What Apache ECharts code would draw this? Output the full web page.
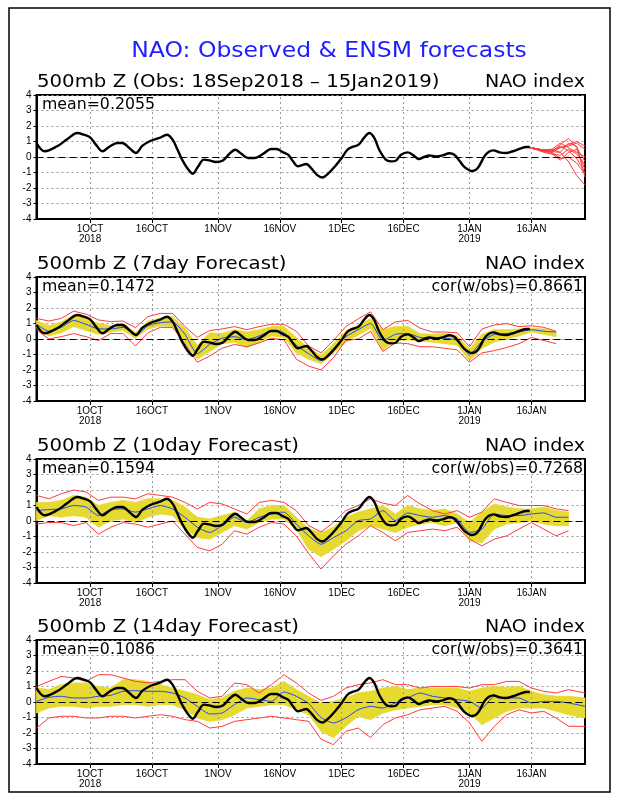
<!DOCTYPE html>
<html><head><meta charset="utf-8">
<script src="https://cdn.jsdelivr.net/npm/echarts@6/dist/echarts.min.js"></script>
<style>html,body{margin:0;padding:0;background:#fff}#c{width:618px;height:800px}</style>
</head><body><div id="c"></div>
<script>
// ---- axis ticks (day index: 0 = 18 Sep 2018) ----
const tickDays = [13, 28, 44, 59, 74, 89, 105, 120];
const tickLabels = ['1OCT\n2018', '16OCT', '1NOV', '16NOV', '1DEC', '16DEC', '1JAN\n2019', '16JAN'];
const yTicks = [-4, -3, -2, -1, 0, 1, 2, 3, 4];

// ---- texts ----
const mainTitle = 'NAO: Observed & ENSM forecasts';
const panelTitles = ['500mb Z (Obs: 18Sep2018 \u2013 15Jan2019)', '500mb Z (7day Forecast)', '500mb Z (10day Forecast)', '500mb Z (14day Forecast)'];
const panelRight = 'NAO index';
const meanTexts = ['mean=0.2055', 'mean=0.1472', 'mean=0.1594', 'mean=0.1086'];
const corTexts = ['', 'cor(w/obs)=0.8661', 'cor(w/obs)=0.7268', 'cor(w/obs)=0.3641'];

// ---- observed NAO ----
const obsDays = [0, 2, 5, 7.5, 9.9, 11.5, 13, 14.4, 16, 17.6, 19.6, 20.8, 22.5, 24.1, 25.7, 27.7, 29.8, 31.6, 33, 34.2, 35.4, 36.7, 37.9, 39.1, 40.6, 41.9, 43.5, 45.2, 46.8, 48.2, 49.6, 51.3, 52.9, 54.9, 56.9, 58.2, 59.8, 61, 62.2, 63.4, 64.4, 65.4, 66.7, 68, 69.3, 70.9, 72.5, 74, 75.4, 76.6, 78.1, 79.4, 80.7, 81.9, 83.1, 84.7, 85.9, 87.1, 88.4, 90, 91.2, 92.7, 94, 95.2, 96.9, 98.5, 100.1, 101.3, 102.5, 103.8, 105.6, 107, 108.6, 109.7, 110.8, 112.3, 113.9, 115.5, 117.1, 118.8, 119.6];
const obsVals = [0.9, 0.37, 0.69, 1.16, 1.55, 1.44, 1.27, 0.8, 0.37, 0.65, 0.9, 0.9, 0.58, 0.26, 0.73, 1.05, 1.23, 1.44, 1.12, 0.47, -0.22, -0.77, -1.08, -0.65, -0.17, -0.22, -0.32, -0.22, 0.22, 0.47, 0.22, -0.06, -0.06, 0.19, 0.52, 0.52, 0.3, 0.15, -0.28, -0.6, -0.52, -0.45, -0.75, -1.15, -1.32, -1.03, -0.56, -0.06, 0.47, 0.65, 0.8, 1.23, 1.55, 1.23, 0.47, -0.17, -0.28, -0.24, 0.15, 0.3, 0.15, -0.13, 0, 0.1, 0.04, 0.1, 0.24, 0.15, -0.22, -0.65, -0.9, -0.71, 0.04, 0.34, 0.43, 0.3, 0.26, 0.37, 0.52, 0.65, 0.65];

// ---- ensemble members after 15 Jan (panel 1) ----
const ensDays = [119, 121, 123, 125, 127, 129, 131, 133];
const ens01 = [0.65, 0.55, 0.45, 0.35, 0.8, 1.2, 0.6, -0.3];
const ens02 = [0.65, 0.55, 0.4, 0.3, 0.6, 0.7, 0.9, 0.5];
const ens03 = [0.65, 0.5, 0.4, 0.2, -0.2, 0.3, 0.5, -0.8];
const ens04 = [0.65, 0.5, 0.35, 0.4, 0.7, 0.4, -0.1, -1.0];
const ens05 = [0.65, 0.55, 0.45, 0.5, 0.3, -0.3, -1.2, -1.8];
const ens06 = [0.65, 0.5, 0.3, 0.2, 0.1, 0.5, 0.2, -0.5];
const ens07 = [0.65, 0.55, 0.45, 0.5, 0.9, 0.6, 0.3, 0.0];
const ens08 = [0.65, 0.5, 0.4, 0.35, 0.3, 0.9, 0.7, -1.3];
const ens09 = [0.65, 0.55, 0.45, 0.3, -0.1, 0.0, -0.4, -1.1];
const ens10 = [0.65, 0.5, 0.35, 0.45, 0.6, 0.8, 1.0, 0.7];

// ---- 7 day forecast ----
const days7 = [0, 3, 6, 9, 12, 15, 18, 21, 24, 27, 30, 33, 36, 39, 42, 45, 48, 51, 54, 57, 60, 63, 66, 69, 72, 75, 78, 81, 84, 87, 90, 93, 96, 99, 102, 105, 108, 111, 114, 117, 120, 123, 126];
const max7 = [1.33, 1.16, 1.33, 1.8, 1.6, 1.23, 1.12, 1.16, 0.73, 1.44, 1.65, 1.65, 0.8, 0.1, 0.55, 0.65, 0.8, 0.6, 0.8, 0.95, 0.95, 0.5, -0.45, -0.9, -0.1, 0.8, 1.3, 1.75, 0.6, 1.1, 1.2, 0.7, 0.45, 0.45, 0.4, -0.5, 0.65, 0.9, 1.0, 0.8, 0.85, 0.75, 0.5];
const min7 = [0.6, 0.0, 0.15, 0.35, 0.15, -0.1, 0.35, 0.35, -0.45, 0.4, 0.75, 0.75, -0.3, -1.5, -1.1, -0.6, -0.35, -0.5, -0.25, 0.05, -0.05, -1.3, -1.75, -2.0, -1.2, -0.1, 0.0, 0.5, -0.8, -0.25, -0.3, -0.5, -0.5, -0.6, -0.7, -1.5, -0.9, -0.75, -0.55, -0.3, 0.1, -0.1, -0.3];
const hi7 = [1.2, 0.85, 1.1, 1.55, 1.35, 1.0, 0.85, 1.0, 0.4, 1.15, 1.35, 1.45, 0.7, -0.4, 0.4, 0.35, 0.6, 0.45, 0.6, 0.8, 0.8, 0.1, -0.6, -1.05, -0.3, 0.5, 0.9, 1.3, 0.6, 0.8, 0.8, 0.35, 0.3, 0.35, 0.2, -0.65, 0.3, 0.6, 0.6, 0.65, 0.7, 0.65, 0.45];
const lo7 = [0.7, 0.2, 0.4, 0.8, 0.55, 0.3, 0.45, 0.55, 0.05, 0.65, 0.85, 0.8, -0.2, -1.3, -0.8, -0.3, -0.2, -0.55, -0.2, 0.2, 0.1, -0.9, -1.3, -1.6, -0.9, -0.2, 0.25, 0.7, -0.7, -0.1, -0.05, -0.15, -0.2, -0.3, -0.4, -1.4, -0.6, -0.2, 0.0, 0.2, 0.45, 0.3, 0.15];
const avg7 = [0.95, 0.5, 0.75, 1.2, 0.95, 0.65, 0.65, 0.75, 0.25, 0.85, 1.05, 1.1, 0.3, -0.95, -0.35, 0.05, 0.15, -0.05, 0.2, 0.5, 0.4, -0.4, -0.95, -1.4, -0.6, 0.15, 0.6, 1.0, -0.1, 0.3, 0.35, 0.1, 0.05, 0.05, -0.1, -1.0, -0.15, 0.3, 0.35, 0.45, 0.6, 0.5, 0.45];

// ---- 10 day forecast ----
const days10 = [0, 3, 6, 9, 12, 15, 18, 21, 24, 27, 30, 33, 36, 39, 42, 45, 48, 51, 54, 57, 60, 63, 66, 69, 72, 75, 78, 81, 84, 87, 90, 93, 96, 99, 102, 105, 108, 111, 114, 117, 120, 123, 126, 129];
const max10 = [1.65, 1.43, 1.76, 2.0, 1.87, 1.33, 1.54, 1.54, 1.43, 1.76, 1.65, 1.54, 1.2, 0.78, 1.2, 1.1, 0.78, 0.45, 1.2, 1.33, 1.2, 0.67, -0.3, -0.7, -0.1, 0.67, 1.0, 1.43, 1.15, 1.0, 1.65, 1.1, 0.67, 0.45, 0.67, 0.24, 0.57, 1.43, 1.2, 1.0, 1.0, 1.0, 0.78, 0.67];
const min10 = [-0.2, -0.1, -0.1, -0.3, -0.1, -0.85, -0.4, -0.1, -0.2, -0.4, -0.2, 0, -0.85, -1.7, -1.93, -1.5, -0.63, -0.85, -0.4, -0.1, -0.2, -0.96, -2.1, -3.1, -2.25, -1.5, -0.96, -0.3, -0.74, -1.28, -0.74, -0.63, -0.52, -0.63, -0.4, -1.17, -1.6, -1.17, -0.96, -0.52, -0.1, -0.52, -0.96, -0.63];
const hi10 = [1.2, 1.2, 1.33, 1.65, 1.54, 1.0, 1.2, 1.33, 1.2, 1.43, 1.43, 1.33, 0.9, 0.24, 0.13, 0.35, 0.57, 0.02, 0.78, 1.0, 1.0, 0.24, -0.5, -0.75, -0.4, 0.24, 0.57, 0.78, 1.0, 0.45, 1.0, 0.78, 0.67, 0.78, 0.45, -0.1, 0.57, 1.1, 0.9, 0.78, 0.78, 0.9, 0.67, 0.57];
const lo10 = [0.02, 0.35, 0.24, 0.35, 0.24, -0.4, 0.02, 0.13, -0.1, 0.24, 0.45, 0.35, -0.52, -1.07, -1.17, -0.74, -0.3, -0.52, -0.1, 0.13, 0.13, -0.52, -1.83, -2.3, -1.83, -1.28, -0.63, -0.3, -0.52, -0.74, -0.4, -0.2, -0.1, -0.3, -0.1, -1.28, -1.4, -0.52, -0.2, -0.1, 0.02, -0.2, -0.3, -0.3];
const avg10 = [0.67, 0.74, 0.78, 1.0, 0.9, 0.35, 0.74, 0.78, 0.57, 0.78, 1.0, 0.78, 0.24, -0.4, -0.74, -0.3, 0.24, -0.1, 0.24, 0.45, 0.57, -0.2, -0.96, -1.5, -1.07, -0.63, 0.02, 0.13, 0.67, 0.02, 0.52, 0.35, 0.24, 0.35, 0.13, -0.74, -0.52, 0.45, 0.35, 0.35, 0.45, 0.52, 0.24, 0.24];

// ---- 14 day forecast ----
const days14 = [0, 3, 6, 9, 12, 15, 18, 21, 24, 27, 30, 33, 36, 39, 42, 45, 48, 51, 54, 57, 60, 63, 66, 69, 72, 75, 78, 81, 84, 87, 90, 93, 96, 99, 102, 105, 108, 111, 114, 117, 120, 123, 126, 129, 133];
const max14 = [1.0, 1.33, 1.65, 1.55, 1.33, 1.76, 1.76, 1.55, 1.33, 1.23, 1.33, 1.44, 1.44, 0.69, 0.26, 0.37, 1.23, 1.12, 0.58, 1.12, 1.76, 1.23, 0.58, 0.1, 0.37, 0.9, 1.12, 1.23, 1.44, 1.12, 1.12, 0.9, 1.0, 1.0, 1.0, 0.9, 1.12, 1.12, 1.33, 1.33, 0.9, 0.69, 0.58, 0.8, 0.58];
const min14 = [-1.68, -1.03, -0.92, -0.92, -1.03, -1.03, -0.92, -0.92, -1.03, -0.92, -0.82, -0.92, -1.14, -1.25, -1.68, -1.57, -1.25, -1.14, -1.03, -0.92, -1.03, -1.14, -1.25, -2.4, -2.75, -1.9, -1.68, -2.3, -1.46, -1.03, -0.82, -0.5, -0.39, -0.28, -0.6, -1.35, -2.54, -1.57, -0.82, -0.5, -0.71, -0.6, -1.03, -1.57, -1.57];
const hi14 = [0.9, 0.8, 1.12, 1.23, 1.23, 1.0, 0.9, 1.44, 1.44, 1.33, 1.12, 0.9, 0.69, 0.47, 0.15, 0.26, 0.69, 0.9, 0.8, 0.9, 1.33, 0.8, 0.35, -0.06, 0.04, 0.26, 0.58, 0.69, 0.9, 1.0, 0.8, 0.9, 0.9, 0.9, 0.9, 0.69, 0.9, 1.0, 0.95, 1.0, 0.69, 0.47, 0.37, 0.37, 0.26];
const lo14 = [-0.71, -0.39, -0.28, -0.28, -0.39, -0.28, -0.28, -0.17, -0.17, -0.28, -0.17, -0.17, -0.5, -1.03, -1.25, -1.14, -0.82, -0.39, -0.28, -0.17, -0.17, -0.5, -0.82, -1.9, -2.3, -1.57, -0.92, -1.14, -0.71, -0.5, -0.39, -0.28, -0.17, -0.17, -0.39, -0.71, -1.46, -1.03, -0.6, -0.39, -0.39, -0.39, -0.6, -0.82, -1.03];
const avg14 = [0.04, 0.3, 0.37, 0.26, 0.26, 0.37, 0.43, 0.69, 0.73, 0.69, 0.69, 0.58, 0.26, -0.28, -0.77, -0.71, -0.17, 0.26, 0.15, 0.04, 0.65, 0.37, -0.1, -1.0, -1.35, -1.03, -0.5, -0.28, -0.39, -0.06, 0.26, 0.58, 0.37, 0.26, 0.15, 0.04, -0.39, 0.37, 0.26, 0.26, -0.06, 0.04, 0.04, -0.06, -0.28];

// ---- build ----
const FONT = 'DejaVu Sans';
const gridTops = [95, 277, 459, 640];
const GL = 36.5, GR = 33, GH = 124, GRIGHTX = 618 - 33;
const RED = '#ff3a3a', BLUE = '#2046ff', YEL = '#e6da30';
const P = (d, v) => d.map((x, i) => [x, v[i]]);
const segs = (d, lo, hi) => d.slice(0, -1).map((x, k) => [x, lo[k], hi[k], d[k + 1], lo[k + 1], hi[k + 1]]);

const gridMarks = {
  silent: true, symbol: ['none', 'none'], label: { show: false }, animation: false,
  emphasis: { disabled: true },
  data: tickDays.map(d => ({ xAxis: d, lineStyle: { color: '#9a9a9a', type: [2, 3], width: 1 } }))
    .concat([{ yAxis: 0, lineStyle: { color: '#000', type: [7, 4], width: 1.2 } }])
};

const grid = gridTops.map(t => ({ left: GL, right: GR, top: t, height: GH, show: true, borderColor: '#000', borderWidth: 2, backgroundColor: 'transparent' }));
const xAxis = gridTops.map((t, i) => ({
  type: 'value', gridIndex: i, min: 0, max: 133,
  axisLine: { show: true, onZero: false, lineStyle: { color: '#000', width: 2 } },
  axisTick: { show: true, customValues: tickDays, length: 4, lineStyle: { color: '#000', width: 1 } },
  axisLabel: { customValues: tickDays, formatter: v => tickLabels[tickDays.indexOf(v)], fontSize: 10, lineHeight: 10, color: '#000', margin: 5, fontFamily: 'Liberation Sans' },
  splitLine: { show: false }
}));
const yAxis = gridTops.map((t, i) => ({
  type: 'value', gridIndex: i, min: yTicks[0], max: yTicks[yTicks.length - 1], interval: 1,
  axisLine: { show: true, onZero: false, lineStyle: { color: '#000', width: 2 } },
  axisTick: { show: true, length: 3, lineStyle: { color: '#000' } },
  axisLabel: { fontSize: 10, color: '#000', margin: 5, fontFamily: 'Liberation Sans' },
  splitLine: { show: true, lineStyle: { color: '#9a9a9a', type: [2, 3], width: 1 } }
}));

const series = [];
const line = (i, data, color, width, z, smooth, extra) => Object.assign({
  type: 'line', xAxisIndex: i, yAxisIndex: i, data: data, symbol: 'none', showSymbol: false,
  lineStyle: { color: color, width: width }, smooth: smooth, z: z, silent: true, animation: false
}, extra || {});

// panel 1
const ensAll = [ens01, ens02, ens03, ens04, ens05, ens06, ens07, ens08, ens09, ens10];
ensAll.forEach((e, k) => series.push(line(0, P(ensDays, e), RED, 1, 3, false, k === 0 ? { markLine: gridMarks } : {})));
series.push(line(0, P(obsDays, obsVals), '#000', 2.4, 6, 0.35));

// forecast panels
const fc = [
  [days7, max7, min7, hi7, lo7, avg7],
  [days10, max10, min10, hi10, lo10, avg10],
  [days14, max14, min14, hi14, lo14, avg14]
];
fc.forEach((f, j) => {
  const i = j + 1;
  const [d, mx, mn, hi, lo, av] = f;
  series.push({
    type: 'custom', xAxisIndex: i, yAxisIndex: i, silent: true, animation: false, z: 1,
    data: segs(d, lo, hi), encode: { x: [0, 3], y: [1, 2, 4, 5] },
    renderItem: (params, api) => {
      const a = api.coord([api.value(0), api.value(1)]);
      const b = api.coord([api.value(0), api.value(2)]);
      const c = api.coord([api.value(3), api.value(5)]);
      const e = api.coord([api.value(3), api.value(4)]);
      return { type: 'polygon', shape: { points: [a, b, c, e] }, style: { fill: YEL, stroke: YEL, lineWidth: 0.8 } };
    }
  });
  series.push(line(i, P(d, mx), RED, 1, 3, false, { markLine: gridMarks }));
  series.push(line(i, P(d, mn), RED, 1, 3, false));
  series.push(line(i, P(d, av), BLUE, 1, 4, 0.2));
  series.push(line(i, P(obsDays, obsVals), '#000', 2.4, 6, 0.35));
});

// texts
const txt = (x, y, text, size, align, sx, color) => ({
  type: 'text', silent: true, x: x, y: y, z: 100, scaleX: sx, originX: 0,
  style: { text: text, fill: color || '#000', fontSize: size, fontFamily: FONT, align: align, verticalAlign: 'middle' }
});
const graphic = [
  { type: 'rect', silent: true, shape: { x: 9, y: 8, width: 601, height: 784 }, style: { fill: 'none', stroke: '#000', lineWidth: 1.5 } },
  txt(329, 52, mainTitle, 21, 'center', 1.12, '#1e1eff')
];
gridTops.forEach((t, i) => {
  graphic.push(txt(37, t - 12, panelTitles[i], 17, 'left', 1.16));
  graphic.push(txt(GRIGHTX, t - 12, panelRight, 17, 'right', 1.12));
  graphic.push(txt(42, t + 10, meanTexts[i], 15, 'left', 1.05));
  if (corTexts[i]) graphic.push(txt(GRIGHTX - 2, t + 10, corTexts[i], 15, 'right', 1.05));
});

const chart = echarts.init(document.getElementById('c'), null, { renderer: 'canvas' });
chart.setOption({ animation: false, backgroundColor: '#fff', grid, xAxis, yAxis, series, graphic });
</script></body></html>
